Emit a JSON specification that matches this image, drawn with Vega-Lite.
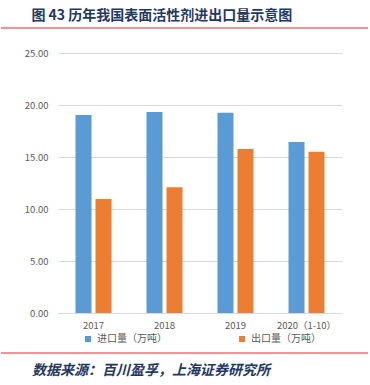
{
  "$schema": "https://vega.github.io/schema/vega-lite/v6.json",
  "background": "white",
  "padding": {"left": 0, "top": 9, "right": 0, "bottom": 0},
  "width": 284,
  "height": 260,
  "config": {
    "view": {"stroke": null},
    "font": "Noto Sans CJK SC"
  },
  "title": {
    "text": "图 43 历年我国表面活性剂进出口量示意图",
    "anchor": "start",
    "frame": "bounds",
    "dx": 31,
    "offset": 4,
    "fontSize": 14,
    "fontWeight": "bold",
    "font": "Noto Sans CJK SC",
    "color": "#1f3864"
  },
  "resolve": {"scale": {"x": "independent", "y": "independent"}},
  "layer": [
    {
      "data": {
        "values": [
          {"year": "2017", "series": "进口量（万吨）", "value": 19.05},
          {"year": "2017", "series": "出口量（万吨）", "value": 10.95},
          {"year": "2018", "series": "进口量（万吨）", "value": 19.33},
          {"year": "2018", "series": "出口量（万吨）", "value": 12.1},
          {"year": "2019", "series": "进口量（万吨）", "value": 19.25},
          {"year": "2019", "series": "出口量（万吨）", "value": 15.77},
          {"year": "2020（1-10）", "series": "进口量（万吨）", "value": 16.45},
          {"year": "2020（1-10）", "series": "出口量（万吨）", "value": 15.5}
        ]
      },
      "mark": {"type": "bar"},
      "encoding": {
        "x": {
          "field": "year", "type": "nominal", "sort": null,
          "scale": {"paddingInner": 0, "paddingOuter": 0},
          "axis": {"title": null, "labelAngle": 0, "domainColor": "#d9d9d9", "ticks": false,
                   "labelColor": "#595959", "labelFontSize": 9.5, "labelPadding": 7}
        },
        "xOffset": {
          "field": "series", "type": "nominal", "sort": ["进口量（万吨）", "出口量（万吨）"],
          "scale": {"paddingInner": 0.2, "paddingOuter": 0.875}
        },
        "y": {
          "field": "value", "type": "quantitative",
          "scale": {"domain": [0, 25]},
          "axis": {"title": null, "values": [0, 5, 10, 15, 20, 25], "format": ".2f",
                   "grid": true, "gridColor": "#d9d9d9", "domain": false, "ticks": false,
                   "labelPadding": 10, "labelColor": "#595959", "labelFontSize": 9.5}
        },
        "color": {
          "field": "series", "type": "nominal", "sort": ["进口量（万吨）", "出口量（万吨）"],
          "scale": {"range": ["#5b9bd5", "#ed7d31"]},
          "legend": {"title": null, "orient": "none", "legendX": 25, "legendY": 281,
                     "direction": "horizontal",
                     "symbolType": "square", "symbolSize": 36, "symbolStrokeWidth": 0,
                     "labelFontSize": 10, "labelColor": "#595959", "columnPadding": 70}
        }
      }
    },
    {
      "data": {"values": [{}]},
      "layer": [
        {
          "mark": {"type": "rule", "color": "#e8262b", "strokeWidth": 1.2},
          "encoding": {
            "x": {"datum": 0, "type": "quantitative", "scale": {"domain": [0, 1], "range": [-57, 310]}, "axis": null},
            "x2": {"datum": 1},
            "y": {"datum": 1, "type": "quantitative", "scale": {"domain": [0, 1], "range": [300, -25]}, "axis": null}
          }
        },
        {
          "mark": {"type": "rule", "color": "#e8262b", "strokeWidth": 1.2},
          "encoding": {
            "x": {"datum": 0, "type": "quantitative"},
            "x2": {"datum": 1},
            "y": {"datum": 0, "type": "quantitative"}
          }
        },
        {
          "mark": {"type": "text", "align": "left", "baseline": "middle", "dx": 31, "dy": 18,
                   "fontSize": 14, "fontWeight": "bold", "fontStyle": "italic",
                   "font": "Noto Sans CJK SC", "color": "#1f3864"},
          "encoding": {
            "x": {"datum": 0, "type": "quantitative"},
            "y": {"datum": 0, "type": "quantitative"},
            "text": {"value": "数据来源：百川盈孚，上海证券研究所"}
          }
        }
      ]
    }
  ]
}
